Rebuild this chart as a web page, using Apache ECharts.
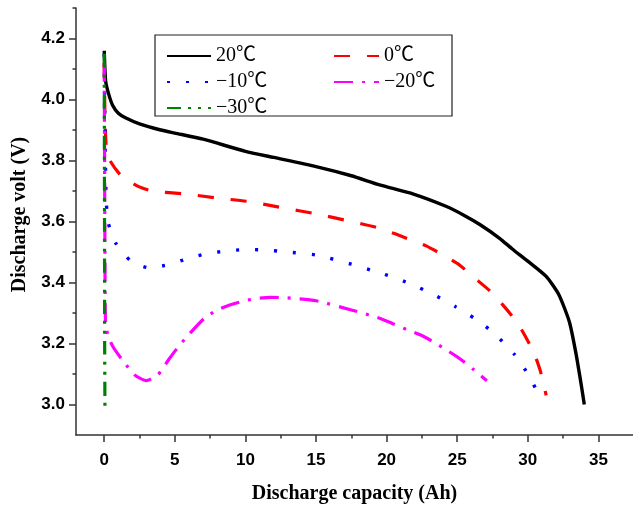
<!DOCTYPE html>
<html>
<head>
<meta charset="utf-8">
<script src="https://cdn.jsdelivr.net/npm/echarts@6/dist/echarts.min.js"></script>
<style>
  html, body { margin: 0; padding: 0; background: #fff; }
  #chart { width: 633px; height: 509px; }
</style>
</head>
<body>
<div id="chart"></div>
<script>
// discharge curves, [capacity Ah, volt V]
const t20 = [[0,4.16],[0.1,4.06],[0.3,4.02],[0.6,3.98],[1,3.955],[1.5,3.94],[2.5,3.92],[4,3.9],[5,3.89],[7,3.87],[10,3.83],[12,3.81],[15,3.78],[17.5,3.75],[19.5,3.72],[21.9,3.69],[24.2,3.65],[25.5,3.62],[26.6,3.59],[28,3.545],[28.9,3.51],[30,3.47],[31.3,3.42],[32.2,3.36],[32.95,3.27],[33.4,3.17],[33.8,3.06],[34.0,3.0]]
const t0 = [[0,4.12],[0.05,3.95],[0.15,3.84],[0.4,3.80],[1.2,3.75],[2.4,3.715],[3.4,3.70],[5.8,3.69],[8,3.677],[10.3,3.665],[12.6,3.645],[15,3.625],[17.5,3.60],[19.5,3.578],[21.7,3.54],[22.8,3.52],[24,3.49],[25.2,3.456],[26.2,3.416],[27.3,3.373],[28.35,3.32],[29.3,3.265],[30.4,3.173],[30.9,3.108],[31.3,3.03]]
const tm10 = [[0,4.15],[0.05,3.9],[0.12,3.7],[0.26,3.60],[0.8,3.53],[1.9,3.47],[3.2,3.448],[4.6,3.459],[5.95,3.479],[7.3,3.495],[8.6,3.503],[10,3.508],[11.35,3.507],[12.77,3.501],[15,3.49],[17.5,3.46],[19.5,3.432],[20.84,3.411],[22.2,3.385],[23.55,3.355],[24.9,3.32],[26.3,3.28],[27.6,3.234],[29.06,3.164],[30.07,3.095],[30.9,3.02]]
const tm20 = [[0,4.12],[0.05,3.5],[0.09,3.27],[0.26,3.227],[0.61,3.19],[1.2,3.151],[2.15,3.097],[2.97,3.078],[3.8,3.097],[4.62,3.151],[5.33,3.194],[6.04,3.232],[7.1,3.283],[7.93,3.308],[8.75,3.324],[9.94,3.34],[10.8,3.348],[11.8,3.351],[12.9,3.35],[15,3.34],[17.5,3.31],[19.5,3.283],[20.44,3.265],[21.4,3.246],[22.45,3.227],[23.4,3.203],[24.2,3.18],[25.16,3.151],[26.2,3.113],[27.1,3.078]]
const tm30 = [[0,4.15],[0.02,3.6],[0.03,3.2],[0.05,2.99]]

const xLabels = [0, 5, 10, 15, 20, 25, 30, 35]
const xMinor = [2.5, 7.5, 12.5, 17.5, 22.5, 27.5, 32.5]
const yLabels = [3.0, 3.2, 3.4, 3.6, 3.8, 4.0, 4.2]
const yMinor = [3.1, 3.3, 3.5, 3.7, 3.9, 4.1, 4.3]

const tickFont = { color: '#000', fontFamily: 'Liberation Sans, Arial', fontWeight: 'bold', fontSize: 17 }
const nameFont = { color: '#000', fontFamily: 'Liberation Serif, Times New Roman', fontWeight: 'bold', fontSize: 20 }
const legendFont = { color: '#000', fontFamily: "'Liberation Serif', 'Noto Sans CJK SC'", fontSize: 20, lineHeight: 20 }
const axisColor = '#333'

const chart = echarts.init(document.getElementById('chart'))

function curve(name, data, color, type, width) {
  return {
    name: name,
    type: 'line',
    data: data,
    showSymbol: false,
    symbol: 'none',
    smooth: 0.2,
    lineStyle: { color: color, width: width, type: type, cap: 'butt' },
    itemStyle: { color: color },
  }
}

// hide the symbol ECharts puts in the middle of a line legend icon
const noSymbol = { color: 'rgba(0,0,0,0)', borderWidth: 0, opacity: 0 }

const option = {
  animation: false,
  backgroundColor: '#fff',
  grid: { left: 76, right: 0, top: 8, bottom: 69 },
  graphic: [
    {
      type: 'rect',
      shape: { x: 155, y: 35, width: 297, height: 81 },
      style: { fill: 'none', stroke: '#222', lineWidth: 1.2 },
      z: 0,
    },
  ],
  legend: [
    {
      orient: 'vertical',
      left: 166, top: 46,
      padding: 0,
      itemWidth: 44, itemHeight: 14, itemGap: 6,
      itemStyle: noSymbol,
      textStyle: legendFont,
      data: ['20℃', '−10℃', '−30℃'],
    },
    {
      orient: 'vertical',
      left: 333, top: 46,
      padding: 0,
      itemWidth: 45, itemHeight: 14, itemGap: 6,
      itemStyle: noSymbol,
      textStyle: legendFont,
      data: ['0℃', '−20℃'],
    },
  ],
  xAxis: [
    {
      type: 'value',
      min: -2, max: 37.45,
      position: 'bottom',
      name: 'Discharge capacity (Ah)',
      nameLocation: 'middle',
      nameGap: 49,
      nameTextStyle: nameFont,
      splitLine: { show: false },
      axisLine: { show: true, onZero: false, lineStyle: { color: axisColor, width: 1.5 } },
      axisTick: { show: true, length: 7, customValues: xLabels, lineStyle: { color: axisColor, width: 1.5 } },
      axisLabel: { customValues: xLabels, margin: 17, ...tickFont },
    },
    {
      type: 'value',
      min: -2, max: 37.45,
      position: 'bottom',
      splitLine: { show: false },
      axisLine: { show: false, onZero: false },
      axisTick: { show: true, length: 3.5, customValues: xMinor, lineStyle: { color: axisColor, width: 1.5 } },
      axisLabel: { show: false },
    },
  ],
  yAxis: [
    {
      type: 'value',
      min: 2.9, max: 4.3,
      position: 'left',
      name: 'Discharge volt (V)',
      nameLocation: 'middle',
      nameGap: 46,
      nameTextStyle: { ...nameFont, padding: [0, 0, 0, 14] },
      splitLine: { show: false },
      axisLine: { show: true, onZero: false, lineStyle: { color: axisColor, width: 1.5 } },
      axisTick: { show: true, length: 7, customValues: yLabels, lineStyle: { color: axisColor, width: 1.5 } },
      axisLabel: { customValues: yLabels, margin: 11, formatter: (v) => v.toFixed(1), ...tickFont },
    },
    {
      type: 'value',
      min: 2.9, max: 4.3,
      position: 'left',
      splitLine: { show: false },
      axisLine: { show: false, onZero: false },
      axisTick: { show: true, length: 3.5, customValues: yMinor, lineStyle: { color: axisColor, width: 1.5 } },
      axisLabel: { show: false },
    },
  ],
  series: [
    curve('20℃', t20, '#000000', 'solid', 3.4),
    curve('0℃', t0, '#ff0000', [16, 17], 3.2),
    curve('−10℃', tm10, '#0000ff', [3, 16], 3.4),
    curve('−20℃', tm20, '#ff00ff', [19, 9, 3, 9], 3.2),
    curve('−30℃', tm30, '#008000', [14, 7, 3, 7, 3, 7], 3.2),
  ],
}

option && chart.setOption(option)
</script>
</body>
</html>
